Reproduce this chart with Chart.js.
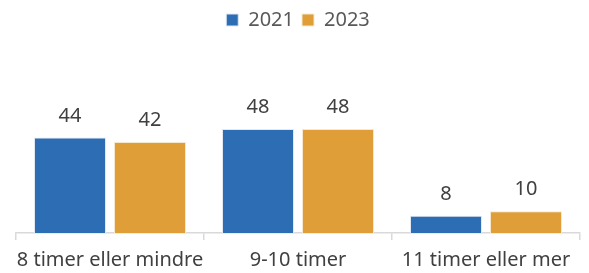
<!DOCTYPE html>
<html lang="no">
<head>
  <meta charset="UTF-8">
  <title>Søvn</title>
  <script src="https://cdn.jsdelivr.net/npm/chart.js"></script>
  <style>
    html, body { margin: 0; padding: 0; background: #fff; }
    #wrap { width: 589px; height: 273px; }
  </style>
</head>
<body>
  <div id="wrap"><canvas id="graf"></canvas></div>
  <script>
    // data
    const kategorier = ['8 timer eller mindre', '9-10 timer', '11 timer eller mer'];
    const verdier2021 = [44, 48, 8];
    const verdier2023 = [42, 48, 10];

    const fontNavn = '"Noto Sans", "DejaVu Sans", sans-serif';

    // tegner verdiene over søylene
    const verdiEtiketter = {
      id: 'verdiEtiketter',
      afterDatasetsDraw(chart) {
        const c = chart.ctx;
        c.save();
        c.font = '20px ' + fontNavn;
        c.fillStyle = '#404040';
        c.textAlign = 'center';
        c.textBaseline = 'alphabetic';
        chart.data.datasets.forEach((ds, i) => {
          chart.getDatasetMeta(i).data.forEach((bar, j) => {
            c.fillText(ds.data[j], bar.x, bar.y - 16);
          });
        });
        c.restore();
      }
    };

    new Chart(document.getElementById('graf'), {
      type: 'bar',
      data: {
        labels: kategorier,
        datasets: [
          { label: '2021', data: verdier2021, backgroundColor: '#2C6DB4', borderColor: '#dfe8f3', borderWidth: 1 },
          { label: '2023', data: verdier2023, backgroundColor: '#DF9E37', borderColor: '#f6e7cf', borderWidth: 1 }
        ]
      },
      options: {
        responsive: true,
        maintainAspectRatio: false,
        animation: false,
        layout: { padding: { left: 16, right: 9, top: 2, bottom: -7 } },
        datasets: { bar: { categoryPercentage: 0.851, barPercentage: 0.9 } },
        plugins: {
          tooltip: { enabled: false },
          legend: {
            position: 'top',
            labels: {
              boxWidth: 12,
              boxHeight: 12,
              padding: 8,
              color: '#595959',
              font: { size: 20, family: fontNavn }
            }
          }
        },
        scales: {
          y: { display: false, min: 0, max: 89 },
          x: {
            border: { color: '#d9d9d9', width: 1.5 },
            grid: { drawOnChartArea: false, drawTicks: true, tickLength: 7, color: '#d9d9d9', lineWidth: 1.5 },
            ticks: { color: '#404040', font: { size: 20, family: fontNavn }, padding: 8, maxRotation: 0, autoSkip: false }
          }
        }
      },
      plugins: [verdiEtiketter]
    });
  </script>
</body>
</html>
